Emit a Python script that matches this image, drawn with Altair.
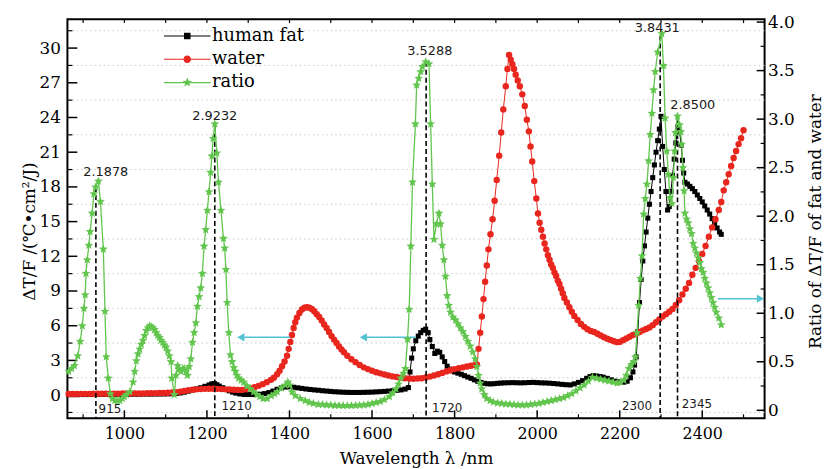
import altair as alt
import pandas as pd

# ---------------- data ----------------
series_names = ["human fat", "water", "ratio"]
series_colors = ["#000000", "#e8261e", "#62c64e"]

fat_nm = [865, 875, 885, 895, 905, 915, 925, 935, 945, 955, 965, 975, 985, 995, 1005, 1015, 1025, 1035, 1045, 1055,
          1065, 1075, 1085, 1095, 1105, 1115, 1125, 1135, 1145, 1155, 1165, 1175, 1185, 1195, 1205, 1212, 1218, 1224,
          1230, 1238, 1246, 1254, 1262, 1270, 1280, 1290, 1300, 1310, 1320, 1330, 1340, 1350, 1360, 1370, 1380, 1390,
          1400, 1410, 1420, 1430, 1440, 1450, 1460, 1470, 1480, 1490, 1500, 1510, 1520, 1530, 1540, 1550, 1560, 1570,
          1580, 1590, 1600, 1610, 1620, 1630, 1640, 1650, 1660, 1670, 1680, 1688, 1692, 1696, 1700, 1706, 1712, 1718,
          1724, 1730, 1736, 1740, 1746, 1752, 1758, 1764, 1770, 1776, 1782, 1788, 1794, 1800, 1808, 1816, 1824, 1832,
          1840, 1848, 1856, 1864, 1872, 1880, 1888, 1896, 1904, 1912, 1920, 1930, 1940, 1950, 1960, 1970, 1980, 1990,
          2000, 2010, 2020, 2030, 2040, 2050, 2060, 2070, 2080, 2090, 2100, 2110, 2120, 2128, 2136, 2144, 2152, 2160,
          2170, 2180, 2190, 2200, 2210, 2218, 2226, 2232, 2236, 2240, 2244, 2248, 2252, 2256, 2260, 2264, 2268, 2272,
          2276, 2280, 2284, 2288, 2292, 2296, 2300, 2304, 2308, 2312, 2316, 2320, 2324, 2328, 2332, 2336, 2341, 2345,
          2349, 2352, 2355, 2358, 2364, 2370, 2376, 2382, 2388, 2394, 2400, 2406, 2412, 2418, 2424, 2430, 2436, 2442,
          2446]
fat_val = [0.04, 0.04, 0.04, 0.05, 0.05, 0.05, 0.05, 0.06, 0.06, 0.06, 0.06, 0.07, 0.07, 0.07, 0.08, 0.08, 0.08, 0.08,
           0.09, 0.09, 0.09, 0.10, 0.10, 0.10, 0.11, 0.12, 0.14, 0.18, 0.25, 0.34, 0.44, 0.54, 0.64, 0.76, 0.88, 0.97,
           1.00, 0.90, 0.78, 0.64, 0.50, 0.37, 0.26, 0.17, 0.10, 0.06, 0.05, 0.05, 0.06, 0.08, 0.13, 0.22, 0.35, 0.50,
           0.62, 0.70, 0.72, 0.68, 0.63, 0.58, 0.53, 0.49, 0.45, 0.42, 0.38, 0.35, 0.32, 0.29, 0.27, 0.25, 0.24, 0.23,
           0.23, 0.23, 0.24, 0.25, 0.26, 0.28, 0.30, 0.32, 0.35, 0.38, 0.41, 0.45, 0.52, 0.65, 2.0, 3.2, 4.0, 4.7, 5.1,
           5.4, 5.6, 5.7, 5.4, 4.8, 4.2, 3.6, 3.8, 3.7, 3.3, 2.9, 2.5, 2.25, 2.1, 2.0, 1.9, 1.8, 1.68, 1.56, 1.45, 1.32,
           1.2, 1.1, 1.02, 0.98, 0.97, 0.99, 1.02, 1.04, 1.06, 1.07, 1.08, 1.07, 1.06, 1.07, 1.09, 1.10, 1.08, 1.06,
           1.05, 1.03, 1.00, 0.97, 0.93, 0.90, 0.88, 0.97, 1.10, 1.25, 1.45, 1.60, 1.68, 1.65, 1.60, 1.55, 1.45, 1.32,
           1.20, 1.14, 1.12, 1.20, 1.50, 2.00, 2.60, 3.30, 5.50, 8.00, 10.0, 11.6, 12.9, 14.1, 15.3, 16.5, 17.6, 18.8,
           19.9, 21.0, 22.0, 23.0, 24.1, 21.5, 19.5, 17.6, 16.0, 16.3, 17.6, 19.0, 20.4, 21.8, 23.2, 22.8, 21.6, 20.3,
           19.2, 18.4, 18.25, 18.05, 17.85, 17.6, 17.3, 17.0, 16.7, 16.35, 16.0, 15.65, 15.25, 14.85, 14.45, 14.1, 13.9]

water_nm = [865, 875, 885, 895, 905, 915, 925, 935, 945, 955, 965, 975, 985, 995, 1005, 1015, 1025, 1035, 1045, 1055,
            1065, 1075, 1085, 1095, 1105, 1115, 1125, 1135, 1145, 1155, 1165, 1175, 1185, 1195, 1205, 1215, 1225,
            1235, 1245, 1255, 1265, 1275, 1285, 1295, 1305, 1315, 1325, 1335, 1345, 1355, 1362, 1370, 1376, 1382,
            1388, 1394, 1398, 1402, 1406, 1410, 1414, 1418, 1424, 1430, 1436, 1442, 1448, 1454, 1460, 1466, 1472,
            1478, 1484, 1490, 1496, 1502, 1508, 1514, 1520, 1526, 1532, 1540, 1550, 1560, 1570, 1580, 1590, 1600,
            1610, 1620, 1630, 1640, 1650, 1660, 1670, 1680, 1690, 1700, 1710, 1720, 1730, 1740, 1750, 1760, 1770,
            1780, 1790, 1800, 1810, 1820, 1830, 1840, 1850, 1854, 1858, 1862, 1866, 1870, 1874, 1878, 1882, 1887,
            1892, 1897, 1902, 1908, 1913, 1918, 1924, 1928, 1932, 1936, 1940, 1944, 1948, 1953, 1958, 1964, 1970,
            1975, 1980, 1984, 1988, 1993, 1998, 2002, 2006, 2010, 2014, 2018, 2022, 2026, 2030, 2034, 2038, 2042,
            2046, 2050, 2054, 2058, 2062, 2066, 2072, 2078, 2084, 2090, 2098, 2106, 2114, 2122, 2130, 2138, 2146,
            2154, 2162, 2170, 2178, 2186, 2194, 2200, 2208, 2216, 2224, 2232, 2240, 2248, 2256, 2264, 2272, 2280,
            2288, 2296, 2304, 2312, 2320, 2328, 2336, 2344, 2352, 2360, 2368, 2376, 2384, 2392, 2400, 2408, 2416,
            2424, 2432, 2440, 2446, 2452, 2458, 2464, 2470, 2476, 2482, 2488, 2494, 2500]
water_val = [0.10, 0.10, 0.10, 0.11, 0.11, 0.11, 0.12, 0.12, 0.12, 0.12, 0.13, 0.13, 0.13, 0.14, 0.14, 0.14, 0.15,
             0.15, 0.15, 0.16, 0.16, 0.17, 0.18, 0.19, 0.20, 0.22, 0.25, 0.30, 0.36, 0.42, 0.47, 0.50, 0.52, 0.54,
             0.55, 0.55, 0.54, 0.52, 0.50, 0.48, 0.46, 0.45, 0.45, 0.50, 0.58, 0.68, 0.80, 0.95, 1.12, 1.32, 1.50,
             1.80, 2.10, 2.50, 2.90, 3.40, 4.00, 4.60, 5.20, 5.80, 6.30, 6.70, 7.10, 7.40, 7.55, 7.60, 7.55, 7.45,
             7.25, 7.00, 6.75, 6.45, 6.10, 5.80, 5.45, 5.10, 4.80, 4.50, 4.20, 3.95, 3.70, 3.40, 3.10, 2.85, 2.60,
             2.40, 2.25, 2.10, 1.98, 1.88, 1.78, 1.70, 1.62, 1.56, 1.50, 1.46, 1.43, 1.42, 1.43, 1.46, 1.52, 1.60,
             1.70, 1.80, 1.92, 2.05, 2.15, 2.25, 2.32, 2.40, 2.47, 2.54, 2.60, 2.65, 4.0, 5.4, 6.8, 8.3, 9.8, 11.2,
             12.6, 13.9, 15.2, 16.8, 18.6, 20.7, 22.7, 24.7, 26.7, 28.2, 29.4, 29.0, 28.6, 28.2, 27.7, 27.2, 26.7,
             26.0, 25.0, 23.8, 22.8, 21.5, 20.2, 18.5, 17.0, 15.7, 14.9, 14.3, 13.7, 13.1, 12.6, 12.1, 11.7, 11.3,
             11.0, 10.6, 10.3, 9.9, 9.6, 9.2, 8.8, 8.4, 8.0, 7.6, 7.2, 6.85, 6.5, 6.15, 5.9, 5.7, 5.55, 5.45, 5.3,
             5.15, 5.0, 4.88, 4.76, 4.66, 4.58, 4.60, 4.75, 4.90, 5.05, 5.20, 5.30, 5.45, 5.60, 5.72, 5.85, 6.05,
             6.30, 6.55, 6.80, 7.00, 7.20, 7.45, 7.80, 8.20, 8.70, 9.20, 9.70, 10.4, 11.0, 11.6, 12.2, 12.9, 13.7,
             14.5, 15.2, 16.0, 16.7, 17.7, 18.4, 19.1, 19.8, 20.5, 21.1, 21.7, 22.2, 22.9]

ratio_nm = [865, 872, 879, 887, 893, 898, 902, 905, 907, 910, 914, 917, 922, 926, 930, 937, 942, 949, 953, 956, 961,
            966, 971, 977, 983, 989, 995, 1000, 1005, 1013, 1021, 1025, 1029, 1033, 1037, 1041, 1045, 1049, 1053,
            1057, 1061, 1065, 1069, 1073, 1077, 1081, 1085, 1089, 1093, 1097, 1101, 1105, 1109, 1113, 1115, 1121,
            1125, 1129, 1133, 1137, 1141, 1145, 1149, 1153, 1157, 1161, 1165, 1169, 1173, 1177, 1181, 1185, 1189,
            1193, 1197, 1201, 1205, 1209, 1212, 1215, 1219, 1224, 1228, 1234, 1240, 1243, 1246, 1249, 1253, 1257,
            1261, 1265, 1269, 1273, 1277, 1283, 1289, 1297, 1305, 1313, 1321, 1328, 1336, 1346, 1356, 1364, 1370,
            1380, 1390, 1396, 1401, 1406, 1414, 1426, 1438, 1448, 1458, 1470, 1480, 1490, 1500, 1510, 1520, 1530,
            1540, 1550, 1560, 1570, 1580, 1590, 1600, 1610, 1620, 1630, 1642, 1650, 1658, 1664, 1670, 1676, 1681,
            1686, 1690, 1694, 1698, 1705, 1708, 1713, 1718, 1722, 1730, 1738, 1742, 1746, 1750, 1756, 1762, 1766,
            1770, 1774, 1778, 1782, 1786, 1790, 1796, 1802, 1808, 1814, 1820, 1826, 1832, 1838, 1844, 1850, 1854,
            1858, 1862, 1866, 1872, 1878, 1886, 1894, 1904, 1914, 1924, 1934, 1944, 1954, 1964, 1974, 1984, 1994,
            2004, 2014, 2024, 2034, 2044, 2054, 2064, 2074, 2084, 2094, 2104, 2114, 2124, 2134, 2144, 2154, 2164,
            2174, 2184, 2194, 2202, 2210, 2216, 2222, 2228, 2234, 2238, 2242, 2246, 2250, 2254, 2258, 2262, 2266,
            2270, 2274, 2278, 2282, 2286, 2292, 2302, 2306, 2310, 2314, 2318, 2322, 2326, 2330, 2333, 2335, 2340,
            2345, 2348, 2350, 2353, 2356, 2358, 2362, 2366, 2370, 2374, 2378, 2382, 2386, 2390, 2394, 2398, 2402,
            2406, 2410, 2414, 2418, 2422, 2426, 2430, 2434, 2440, 2446]
ratio_val = [0.40, 0.43, 0.46, 0.56, 0.71, 0.87, 1.05, 1.19, 1.41, 1.55, 1.70, 1.84, 2.03, 2.23, 2.30, 2.36, 2.15,
             1.66, 1.02, 0.55, 0.33, 0.17, 0.12, 0.10, 0.10, 0.10, 0.12, 0.14, 0.16, 0.19, 0.29, 0.40, 0.51, 0.58,
             0.63, 0.68, 0.72, 0.77, 0.82, 0.85, 0.87, 0.86, 0.85, 0.83, 0.80, 0.77, 0.75, 0.72, 0.70, 0.67, 0.65,
             0.61, 0.56, 0.50, 0.33, 0.16, 0.36, 0.46, 0.42, 0.40, 0.43, 0.43, 0.40, 0.36, 0.45, 0.53, 0.70, 0.80,
             0.90, 1.07, 1.17, 1.26, 1.41, 1.69, 1.86, 2.06, 2.25, 2.45, 2.62, 2.80, 2.95, 2.65, 2.35, 2.06, 1.77,
             1.67, 1.45, 1.11, 0.80, 0.57, 0.50, 0.44, 0.40, 0.36, 0.33, 0.31, 0.29, 0.25, 0.22, 0.19, 0.16, 0.14,
             0.12, 0.12, 0.15, 0.17, 0.19, 0.23, 0.26, 0.29, 0.26, 0.19, 0.15, 0.12, 0.10, 0.08, 0.07, 0.06, 0.06,
             0.055, 0.054, 0.05, 0.05, 0.048, 0.048, 0.048, 0.05, 0.052, 0.055, 0.06, 0.07, 0.08, 0.09, 0.11, 0.14,
             0.18, 0.22, 0.27, 0.33, 0.38, 0.43, 0.73, 1.04, 1.69, 2.35, 2.95, 3.35, 3.42, 3.49, 3.54, 3.59, 3.57,
             2.95, 2.33, 1.76, 1.92, 2.03, 1.92, 1.70, 1.55, 1.38, 1.18, 1.08, 1.01, 0.96, 0.93, 0.89, 0.85, 0.81,
             0.76, 0.71, 0.66, 0.60, 0.53, 0.45, 0.36, 0.28, 0.22, 0.16, 0.12, 0.10, 0.085, 0.075, 0.07, 0.065,
             0.062, 0.058, 0.055, 0.054, 0.055, 0.06, 0.065, 0.07, 0.08, 0.09, 0.10, 0.11, 0.12, 0.13, 0.15, 0.17,
             0.20, 0.23, 0.26, 0.30, 0.34, 0.33, 0.32, 0.31, 0.30, 0.29, 0.28, 0.29, 0.31, 0.36, 0.43, 0.47, 0.50,
             0.55, 0.80, 1.08, 1.36, 1.59, 2.02, 2.18, 2.33, 2.57, 2.84, 3.06, 3.30, 3.49, 3.69, 3.88, 3.55, 3.01,
             2.67, 2.43, 2.19, 2.13, 2.40, 2.67, 2.86, 3.03, 2.94, 2.87, 2.74, 2.50, 2.26, 2.03, 1.97, 1.93, 1.87,
             1.82, 1.72, 1.67, 1.62, 1.57, 1.52, 1.46, 1.42, 1.36, 1.31, 1.26, 1.21, 1.16, 1.11, 1.06, 1.01, 0.95,
             0.88]

# peak annotations (ratio axis)
peak_text = ["2.1878", "2.9232", "3.5288", "3.8431", "2.8500"]
peak_text_nm = [955, 1219, 1740, 2291, 2377]
peak_text_r = [2.46, 3.03, 3.70, 3.94, 3.15]
peak_line_nm = [931, 1219, 1731, 2298, 2340]
peak_line_top = [2.30, 2.93, 3.59, 3.86, 3.01]
wl_text = ["915", "1210", "1720", "2300", "2345"]
wl_text_nm = [965, 1272, 1782, 2242, 2387]
wl_text_r = [0.013, 0.04, 0.02, 0.04, 0.06]

# arrows
arrow_left_head = [1282, 1579]
arrow_left_tail = [1401, 1706]
arrow_left_v = [5.0, 5.0]
arrow_right_head = [2541]
arrow_right_tail = [2438]
arrow_right_r = [1.15]

# axes
x_labels = [1000, 1200, 1400, 1600, 1800, 2000, 2200, 2400]
x_minor = [900, 1100, 1300, 1500, 1700, 1900, 2100, 2300, 2500]
left_labels = [0, 3, 6, 9, 12, 15, 18, 21, 24, 27, 30]
left_minor = [-1.5, 1.5, 4.5, 7.5, 10.5, 13.5, 16.5, 19.5, 22.5, 25.5, 28.5, 31.5]
right_labels = [0, 0.5, 1.0, 1.5, 2.0, 2.5, 3.0, 3.5, 4.0]
right_minor = [0.25, 0.75, 1.25, 1.75, 2.25, 2.75, 3.25, 3.75]

X_DOM = [862, 2551]
L_DOM = [-2.0, 32.5]
R_DOM = [-0.082, 4.03]

# ---------------- chart ----------------
W, H = 704, 403
SERIF = "DejaVu Serif"
SANS = "DejaVu Sans"
RED = series_colors[1]
GREEN = series_colors[2]
CYAN = "#52c3d3"

STAR = ("M0,-1L0.265,-0.364L0.951,-0.309L0.428,0.139L0.588,0.809L0,0.45L-0.588,0.809"
        "L-0.428,0.139L-0.951,-0.309L-0.265,-0.364Z")
# legend symbols: unit = 10 px (symbol size 400); long line through the marker
LEG_LINE = "M-2.35,-0.06L2.35,-0.06L2.35,0.06L-2.35,0.06Z"
LEG_SQUARE = LEG_LINE + "M-0.33,-0.33L0.33,-0.33L0.33,0.33L-0.33,0.33Z"
LEG_CIRCLE = LEG_LINE + "M-0.38,0A0.38,0.38,0,1,1,0.38,0A0.38,0.38,0,1,1,-0.38,0Z"
LEG_STAR = (LEG_LINE + "M0,-0.5L0.133,-0.182L0.476,-0.155L0.214,0.07L0.294,0.405L0,0.225L-0.294,0.405"
            "L-0.214,0.07L-0.476,-0.155L-0.133,-0.182Z")
legend_paths = [LEG_SQUARE, LEG_CIRCLE, LEG_STAR]

xs = alt.Scale(domain=X_DOM, nice=False, zero=False)
ls = alt.Scale(domain=L_DOM, nice=False, zero=False)
rs = alt.Scale(domain=R_DOM, nice=False, zero=False)

x_axis = alt.Axis(values=x_labels, format="d", title="Wavelength λ /nm", labelFont=SERIF, labelFontSize=16,
                  titleFont=SERIF, titleFontSize=17, titleFontWeight="normal", ticks=False, domain=False,
                  grid=False, labelPadding=7, titlePadding=10, labelColor="black", titleColor="black")
left_axis = alt.Axis(values=left_labels, orient="left", title="ΔT/F /(℃•cm²/J)", labelFont=SERIF,
                     labelFontSize=17, titleFont=SERIF, titleFontSize=17, titleFontWeight="normal",
                     ticks=False, domain=False, grid=False, labelPadding=7, labelColor="black",
                     titleColor="black", titleAngle=270, titleX=-38, titleY=214, titleBaseline="middle",
                     titleAlign="center")
right_axis = alt.Axis(values=right_labels, orient="right", title="Ratio of ΔT/F of fat and water",
                      labelExpr="datum.value == 0 ? '0' : format(datum.value, '.1f')", labelFont=SERIF,
                      labelFontSize=17, titleFont=SERIF, titleFontSize=17, titleFontWeight="normal",
                      ticks=False, domain=False, grid=False, labelPadding=3, labelColor="black",
                      titleColor="black", titleAngle=270, titleX=51, titleY=204, titleBaseline="middle",
                      titleAlign="center")

X = lambda f: alt.X(f, type="quantitative", scale=xs, axis=x_axis)
YL = lambda f: alt.Y(f, type="quantitative", scale=ls, axis=left_axis)
YR = lambda f: alt.Y(f, type="quantitative", scale=rs, axis=right_axis)

fat_df = pd.DataFrame({"nm": fat_nm, "v": fat_val})
water_df = pd.DataFrame({"nm": water_nm, "v": water_val})
ratio_df = pd.DataFrame({"nm": ratio_nm, "r": ratio_val})

grid = alt.Chart(pd.DataFrame({"v": left_minor})).mark_rule(
    color="#c8c8c8", strokeDash=[1.5, 3], strokeWidth=1).encode(y=YL("v"))
lt_major = alt.Chart(pd.DataFrame({"v": left_labels})).mark_rule(color="black", strokeWidth=1.5).encode(
    y=YL("v"), x=alt.value(0), x2=alt.value(10))
lt_minor = alt.Chart(pd.DataFrame({"v": left_minor})).mark_rule(color="black", strokeWidth=1.2).encode(
    y=YL("v"), x=alt.value(0), x2=alt.value(5))
bt_major = alt.Chart(pd.DataFrame({"nm": x_labels})).mark_rule(color="black", strokeWidth=1.5).encode(
    x=X("nm"), y=alt.value(H), y2=alt.value(H - 8))
bt_minor = alt.Chart(pd.DataFrame({"nm": x_minor})).mark_rule(color="black", strokeWidth=1.2).encode(
    x=X("nm"), y=alt.value(H), y2=alt.value(H - 4))
tp_ticks = alt.Chart(pd.DataFrame({"nm": x_labels + x_minor})).mark_rule(color="black", strokeWidth=1.2).encode(
    x=X("nm"), y=alt.value(0), y2=alt.value(4))

fat_line = alt.Chart(fat_df).mark_line(color="black", strokeWidth=1).encode(x=X("nm"), y=YL("v"))
fat_pts = alt.Chart(fat_df).mark_point(shape="square", filled=True, color="black", size=26, opacity=1).encode(
    x=X("nm"), y=YL("v"))
water_line = alt.Chart(water_df).mark_line(color=RED, strokeWidth=1).encode(x=X("nm"), y=YL("v"))
water_pts = alt.Chart(water_df).mark_point(shape="circle", filled=True, color=RED, size=42, opacity=1).encode(
    x=X("nm"), y=YL("v"))

arrows_l = pd.DataFrame({"head": arrow_left_head, "tail": arrow_left_tail, "v": arrow_left_v})
arr_l_shaft = alt.Chart(arrows_l).mark_rule(color=CYAN, strokeWidth=1.5).encode(
    x=X("head"), x2="tail", y=YL("v"))
arr_l_head = alt.Chart(arrows_l).mark_point(shape="triangle-left", filled=True, color=CYAN, size=70,
                                             opacity=1).encode(x=X("head"), y=YL("v"))

legend_df = pd.DataFrame({"series": series_names, "nm": [fat_nm[0]] * 3, "v": [fat_val[0]] * 3})
leg = alt.Legend(orient="none", legendX=111, legendY=7, title=None, labelFont=SERIF, labelFontSize=18,
                 labelColor="black", symbolSize=400, symbolStrokeWidth=0, symbolOpacity=1, rowPadding=4.5,
                 padding=0, labelOffset=15)
legend_layer = alt.Chart(legend_df).mark_point(filled=True, opacity=0, size=400).encode(
    x=X("nm"), y=YL("v"),
    color=alt.Color("series:N", scale=alt.Scale(domain=series_names, range=series_colors), legend=leg),
    shape=alt.Shape("series:N", scale=alt.Scale(domain=series_names, range=legend_paths), legend=leg))

left_group = alt.layer(grid, lt_major, lt_minor, bt_major, bt_minor, tp_ticks, fat_line, fat_pts,
                       water_line, water_pts, arr_l_shaft, arr_l_head, legend_layer)

# right axis group
rt_major = alt.Chart(pd.DataFrame({"r": right_labels})).mark_rule(color="black", strokeWidth=1.5).encode(
    y=YR("r"), x=alt.value(W - 8), x2=alt.value(W))
rt_minor = alt.Chart(pd.DataFrame({"r": right_minor})).mark_rule(color="black", strokeWidth=1.2).encode(
    y=YR("r"), x=alt.value(W - 4), x2=alt.value(W))
ratio_line = alt.Chart(ratio_df).mark_line(color=GREEN, strokeWidth=1.3).encode(x=X("nm"), y=YR("r"))
ratio_pts = alt.Chart(ratio_df).mark_point(shape=STAR, filled=True, color=GREEN, size=85, opacity=1).encode(
    x=X("nm"), y=YR("r"))

dash_df = pd.DataFrame({"nm": peak_line_nm, "top": peak_line_top, "bot": [R_DOM[0]] * 5})
dash = alt.Chart(dash_df).mark_rule(color="black", strokeWidth=1.6, strokeDash=[5, 3]).encode(
    x=X("nm"), y=YR("top"), y2="bot")
peak_df = pd.DataFrame({"nm": peak_text_nm, "r": peak_text_r, "t": peak_text})
peak_lbl = alt.Chart(peak_df).mark_text(font=SANS, fontSize=13, color="#1a1a1a").encode(
    x=X("nm"), y=YR("r"), text="t:N")
wl_df = pd.DataFrame({"nm": wl_text_nm, "r": wl_text_r, "t": wl_text})
wl_lbl = alt.Chart(wl_df).mark_text(font=SANS, fontSize=12, color="#1a1a1a").encode(
    x=X("nm"), y=YR("r"), text="t:N")

arrows_r = pd.DataFrame({"head": arrow_right_head, "tail": arrow_right_tail, "r": arrow_right_r})
arr_r_shaft = alt.Chart(arrows_r).mark_rule(color=CYAN, strokeWidth=1.5).encode(
    x=X("tail"), x2="head", y=YR("r"))
arr_r_head = alt.Chart(arrows_r).mark_point(shape="triangle-right", filled=True, color=CYAN, size=70,
                                             opacity=1).encode(x=X("head"), y=YR("r"))

right_group = alt.layer(rt_major, rt_minor, dash, ratio_line, ratio_pts, peak_lbl, wl_lbl,
                        arr_r_shaft, arr_r_head)

chart = alt.layer(left_group, right_group).resolve_scale(y="independent").properties(
    width=W, height=H,
    autosize=alt.AutoSizeParams(type="none"),
    padding={"left": 60, "top": 9, "right": 61, "bottom": 52},
    background="white",
).configure_view(stroke="black", strokeWidth=2)

chart.save("out.html", embed_options={"renderer": "svg", "actions": False})
